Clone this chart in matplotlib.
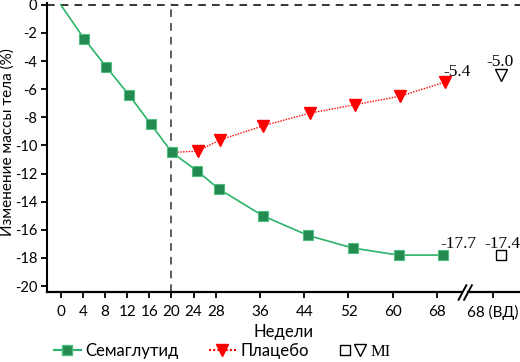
import matplotlib.pyplot as plt
from matplotlib.lines import Line2D
from matplotlib.legend_handler import HandlerTuple

plt.rcParams['font.family'] = ['Lato', 'DejaVu Sans']
plt.rcParams['axes.unicode_minus'] = False

# data
sema_weeks = [0, 4.2, 8.2, 12.3, 16.3, 20.1, 24.6, 28.6, 36.5, 44.7, 52.8, 61.1, 69.1]
sema_change = [0, -2.4, -4.4, -6.4, -8.5, -10.5, -11.8, -13.1, -15.0, -16.4, -17.3, -17.8, -17.8]
placebo_weeks = [20.1, 24.8, 28.8, 36.6, 45.0, 53.2, 61.3, 69.4]
placebo_change = [-10.5, -10.4, -9.6, -8.6, -7.7, -7.1, -6.5, -5.5]
mi_week = 79.5
mi_sema = -17.8
mi_placebo = -5.0
tick_weeks = [0, 4, 8, 12, 16, 20, 24, 28, 36, 44, 52, 60, 68, 78.1]
tick_labels = ['0', '4', '8', '12', '16', '20', '24', '28', '36', '44', '52', '60', '68', '68 (ВД)']

green_line = '#2db36a'
green_mark = '#238b50'
red = '#ff0000'

fig = plt.figure(figsize=(5.2, 3.62), dpi=100)
ax = fig.add_axes([0.09, 0.192, 0.91, 0.8])

ax.axhline(0, color='black', ls=(0, (5, 4)), lw=1.1)
ax.axvline(20, color='#333333', ls=(0, (5, 4)), lw=1.1)

ax.plot(sema_weeks, sema_change, color=green_line, lw=1.2, zorder=3)
ax.plot(sema_weeks[1:], sema_change[1:], ls='none', marker='s', ms=7,
        mfc=green_mark, mec='#4fbf80', mew=0.8, zorder=4)
ax.plot(placebo_weeks, placebo_change, color=red, lw=1.0, ls=(0, (1, 1)), zorder=3)
ax.plot(placebo_weeks[1:], placebo_change[1:], ls='none', marker='v', ms=8,
        color=red, zorder=4)
ax.plot([mi_week], [mi_placebo], ls='none', marker='v', ms=8, mfc='white',
        mec='black', mew=1.0)
ax.plot([mi_week], [mi_sema], ls='none', marker='s', ms=7, mfc='white',
        mec='black', mew=1.0)

serif = dict(family='Liberation Serif', fontsize=12.5, ha='center', va='bottom')
ax.text(71.8, -17.6, '-17.7', **serif)
ax.text(79.9, -17.6, '-17.4', **serif)
ax.text(71.6, -5.35, '-5.4', **serif)
ax.text(79.3, -4.65, '-5.0', **serif)

ax.set_xlim(-2.53, 83)
ax.set_ylim(-20.46, 0.14)
ax.set_yticks(range(0, -21, -2))
ax.set_yticklabels([str(v) for v in range(0, -21, -2)])
ax.set_xticks(tick_weeks)
ax.set_xticklabels(tick_labels)
ax.tick_params(labelsize=11, width=1.3, length=4, color='black')
ax.tick_params(axis='x', pad=5)
ax.tick_params(axis='y', pad=3, labelsize=10.5)

ax.spines['top'].set_visible(False)
ax.spines['right'].set_visible(False)
ax.spines['bottom'].set_visible(False)
ax.spines['left'].set_linewidth(1.5)

# broken x axis
tr = ax.get_xaxis_transform()
ax.plot([-2.53, 72.6], [0, 0], color='black', lw=1.6, transform=tr, clip_on=False)
ax.plot([73.6, 83], [0, 0], color='black', lw=1.6, transform=tr, clip_on=False)
for x0 in (72.6, 73.6):
    ax.plot([x0 - 0.7, x0 + 0.7], [-0.025, 0.025], color='black', lw=1.4,
            transform=tr, clip_on=False)

ax.set_xlabel('Недели', fontsize=12, labelpad=3)
ax.set_ylabel('Изменение массы тела (%)', fontsize=11, va='center')
ax.yaxis.set_label_coords(-0.084, 0.52)

h_sema = Line2D([], [], color=green_line, marker='s', ms=7, mfc=green_mark, mec='#4fbf80')
h_plac = Line2D([], [], color=red, ls=(0, (1, 1)), marker='v', ms=8, mfc=red, mec=red)
h_mi1 = Line2D([], [], ls='none', marker='s', ms=7, mfc='white', mec='black')
h_mi2 = Line2D([], [], ls='none', marker='v', ms=8, mfc='white', mec='black')
leg = fig.legend([h_sema, h_plac, (h_mi1, h_mi2)], ['Семаглутид', 'Плацебо', 'MI'],
                 handler_map={tuple: HandlerTuple(ndivide=None, pad=0.3)},
                 loc='lower left', bbox_to_anchor=(0.075, -0.035), ncol=3,
                 frameon=False, fontsize=12, handlelength=1.6, handletextpad=0.3,
                 columnspacing=1.8)
leg.get_texts()[2].set_family('Liberation Serif')

fig.savefig('out.png', dpi=100)
